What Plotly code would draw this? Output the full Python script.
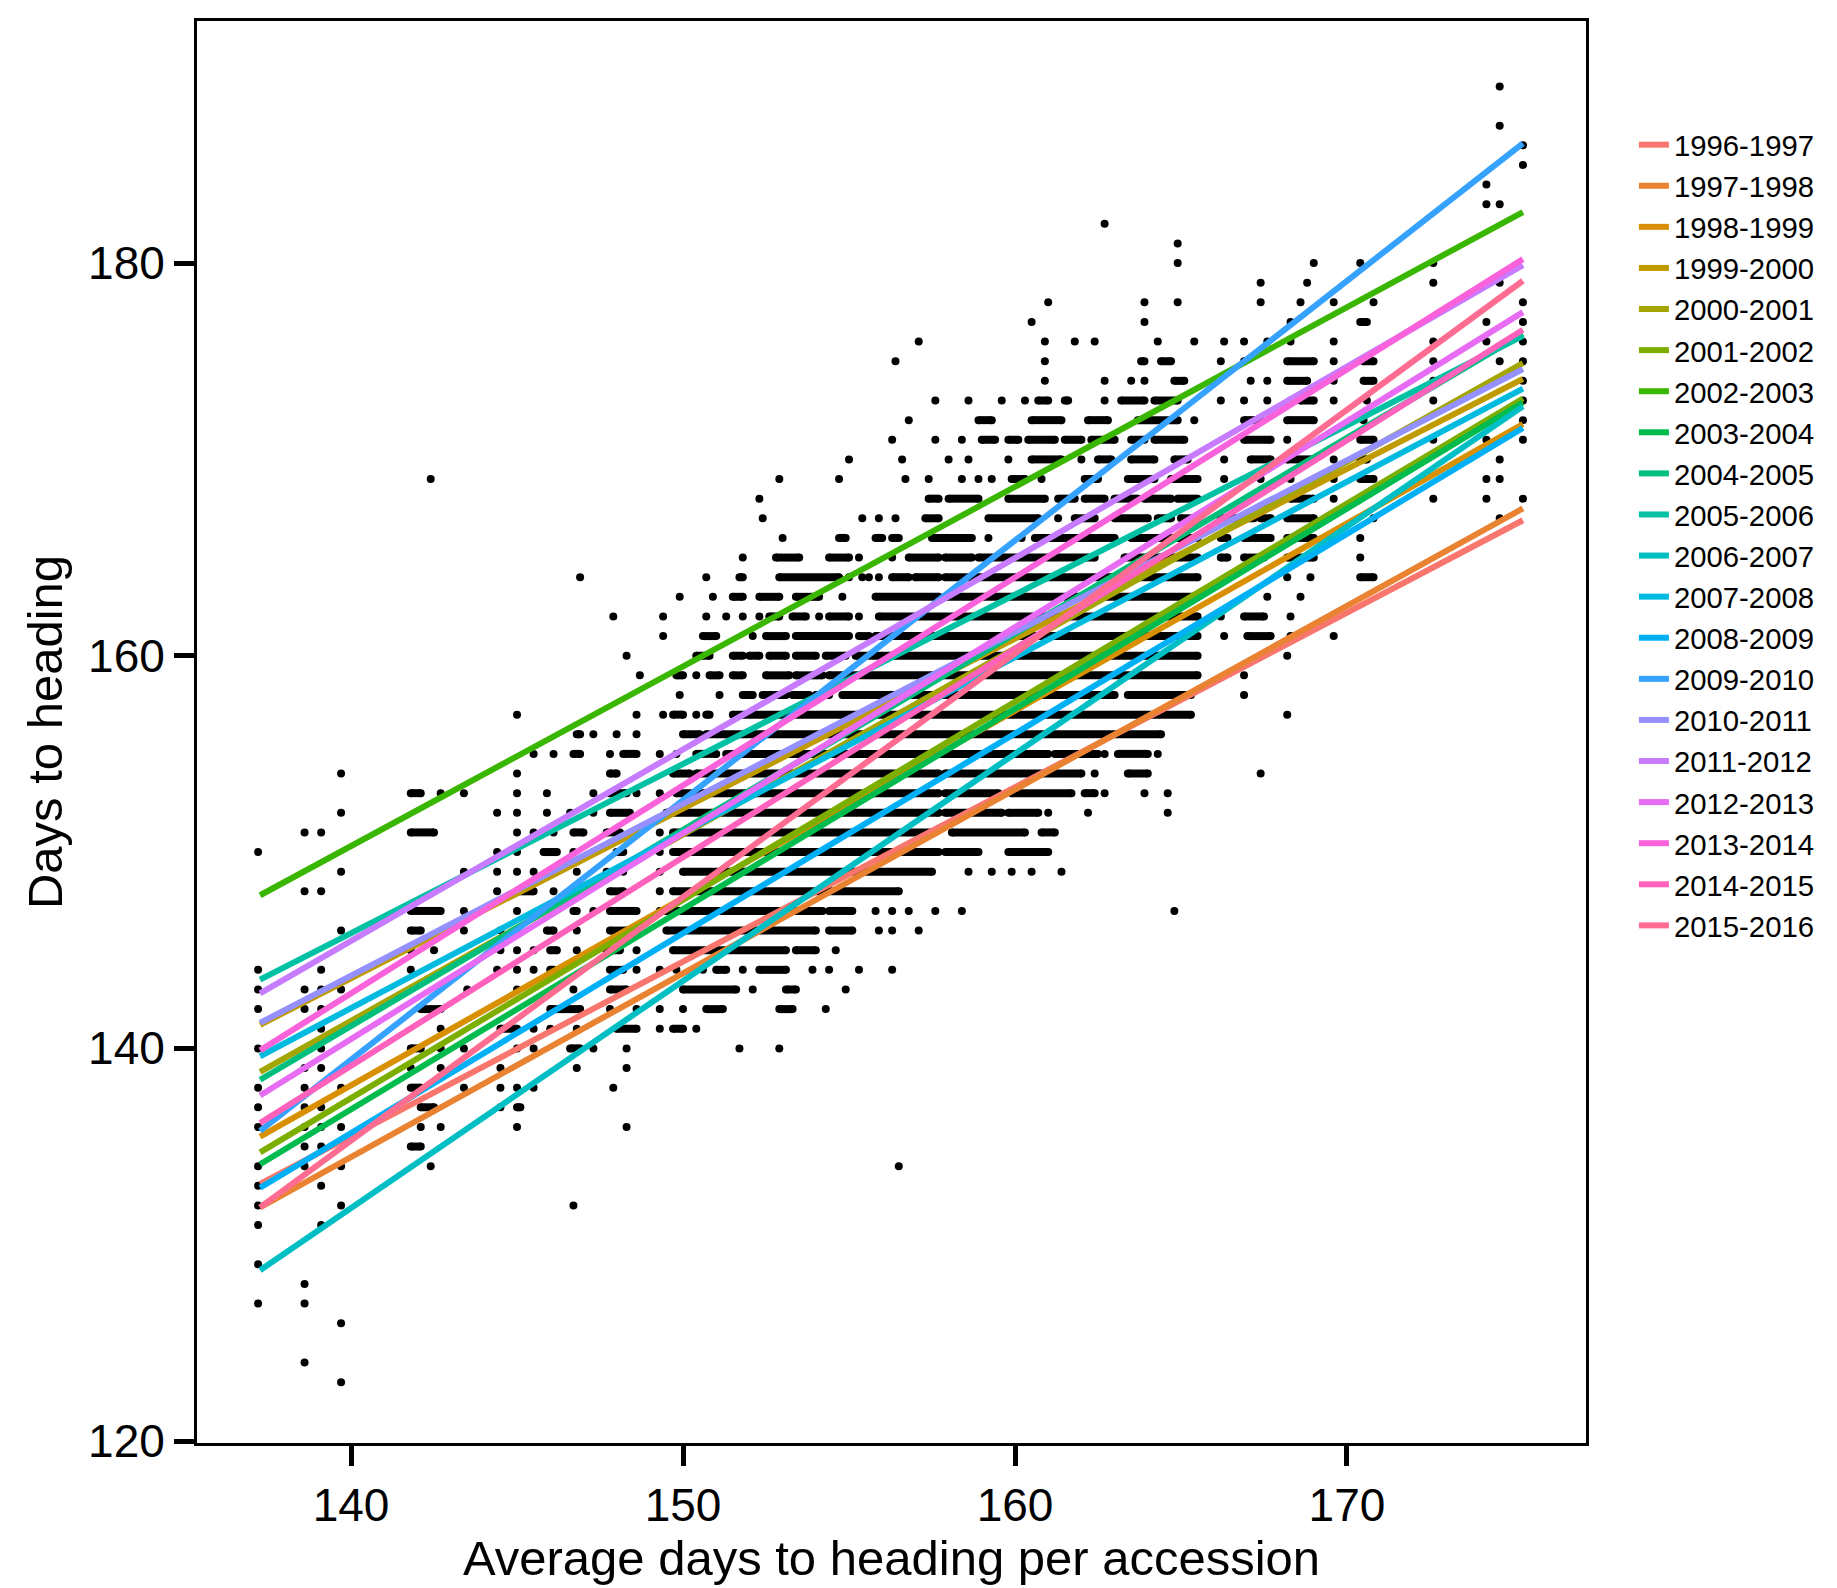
import plotly.graph_objects as go

FONT = "Liberation Sans, Arial, sans-serif"

# Growing seasons and their ggplot-style hue colours
seasons = [
    "1996-1997", "1997-1998", "1998-1999", "1999-2000", "2000-2001",
    "2001-2002", "2002-2003", "2003-2004", "2004-2005", "2005-2006",
    "2006-2007", "2007-2008", "2008-2009", "2009-2010", "2010-2011",
    "2011-2012", "2012-2013", "2013-2014", "2014-2015", "2015-2016",
]
line_colors = [
    "#F8766D", "#EA8331", "#D89000", "#C09B00", "#A3A500",
    "#7CAE00", "#39B600", "#00BB4E", "#00BF7D", "#00C1A3",
    "#00BFC4", "#00BAE0", "#00B0F6", "#35A2FF", "#9590FF",
    "#C77CFF", "#E76BF3", "#FA62DB", "#FF62BC", "#FF6C91",
]

# Fitted days to heading at the two ends of the accession range
fit_x = [137.26, 175.3]
fit_start = [133.1, 131.9, 135.5, 141.2, 138.8, 134.7, 147.8, 134.1, 138.4, 143.5,
             128.7, 139.6, 132.9, 135.8, 141.3, 142.8, 137.6, 139.9, 136.2, 131.9]
fit_end = [166.9, 167.5, 171.8, 174.1, 174.9, 173.1, 182.6, 172.9, 176.4, 176.3,
           172.7, 173.6, 171.6, 186.1, 174.6, 179.9, 177.5, 180.2, 176.6, 179.1]

# Observations by days to heading: single accessions (x) or runs of
# overlapping accessions (x_from, x_to)
dot_rows = {
    189: [174.6],
    187: [174.6],
    186: [175.3],
    185: [175.3],
    184: [174.2],
    183: [174.2, 174.6],
    182: [162.7],
    181: [164.9],
    180: [164.9, 169.0, 170.4, 172.6],
    179: [167.4, 168.8, 172.6, 174.6],
    178: [161.0, 163.9, 164.9, 167.4, 168.6, 169.6, 170.8, 175.3],
    177: [160.5, 163.9, 168.3, (170.4, 170.6), 174.2, 175.3],
    176: [157.1, 160.9, 161.8, 162.4, 164.3, 165.4, 166.3, 166.9, 167.6, 168.3,
          169.6, 172.6, 174.2, 175.3],
    175: [156.4, 160.9, (163.8, 163.9), (164.4, 164.7), 166.2, 166.9, (168.2, 169.0),
          169.6, (170.5, 170.8), 172.6, 174.6, 175.3],
    174: [160.9, 162.7, 163.5, 163.9, (164.8, 165.1), 167.1, 167.6, (168.2, 168.8),
          169.6, (170.5, 170.8), 172.6, 175.3],
    173: [157.6, 158.6, 159.6, 160.3, (160.7, 161.0), (161.5, 161.6), 162.7,
          (163.2, 163.9), (164.2, 164.9), 166.2, 166.9, 167.6, 168.3, (168.6, 169.0),
          169.6, 170.6, 172.6, 175.3],
    172: [156.8, (158.9, 159.3), (160.5, 161.4), (162.2, 162.8), (163.7, 164.9), 165.4,
          (166.9, 167.4), (168.2, 169.0), 170.5, 175.3],
    171: [156.3, 157.6, 158.4, (159.0, 159.4), (159.8, 160.1), (160.4, 161.2),
          (161.5, 162.0), (162.3, 163.0), (163.5, 163.9), (164.2, 165.1), (166.9, 167.7),
          168.2, (170.4, 170.8), 172.6, 174.2, 175.3],
    170: [155.0, 156.6, 158.0, 158.6, 159.8, (160.5, 161.4), 162.0, (162.5, 162.9),
          (163.5, 164.2), (164.8, 165.2), 166.3, (167.1, 167.7), (168.2, 169.0), 169.6,
          (170.4, 170.6), 174.6],
    169: [142.4, 152.9, 154.7, 156.7, 157.4, 158.4, 158.9, 159.3, (159.9, 160.3), 160.8,
          (162.1, 162.5), (163.4, 164.2), (164.7, 165.5), 166.3, 167.4, 168.3, 169.6,
          (170.4, 170.8), 174.2, 174.6],
    168: [152.3, (157.4, 157.7), (158.0, 158.9), (159.8, 160.9), (161.3, 161.8),
          (162.1, 162.7), (163.0, 163.7), (163.9, 164.7), (164.9, 165.5), (168.3, 169.0),
          169.6, 172.6, 174.2, 175.3],
    167: [152.4, 155.4, 155.9, 156.4, (157.3, 157.7), (159.2, 160.7), 161.3,
          (161.8, 162.4), (163.0, 164.0), (164.3, 164.7), (165.0, 165.5), (166.2, 167.2),
          (167.4, 167.7), (168.2, 169.0), 170.8, 174.6],
    166: [153.0, (154.7, 154.9), (155.8, 156.0), (156.3, 156.5), (157.5, 158.7), 159.2,
          160.2, (160.6, 162.4), (162.5, 163.0), (163.5, 165.5), (166.2, 166.4),
          (166.9, 167.7), (168.2, 169.0), 170.4],
    165: [151.8, (152.8, 153.5), (154.4, 155.0), 155.3, 156.3, (156.8, 157.7),
          (157.9, 158.7), (158.9, 162.4), (163.3, 165.5), (166.2, 166.4), (166.9, 167.5),
          (168.2, 169.0), 170.4],
    164: [146.9, 150.7, (151.7, 151.8), (152.9, 154.7), 155.0, 155.4, 155.6, 155.9,
          (156.3, 156.8), (157.0, 157.7), (157.9, 165.5), 168.2, 168.9, (170.4, 170.8)],
    163: [149.9, 150.9, (151.5, 151.8), (152.3, 152.9), (153.4, 154.1), 154.8,
          (155.8, 157.7), (157.9, 165.5), 167.6, 168.6],
    162: [147.9, 149.4, 150.7, 151.3, 151.8, 152.3, (152.6, 152.9), (153.3, 153.7), 154.1,
          (154.4, 155.0), 155.3, (155.9, 165.5), 166.2, (166.9, 167.5), 168.3],
    161: [149.4, (150.6, 151.0), 152.1, (152.5, 153.1), (153.4, 155.0), (155.3, 155.6),
          (155.8, 165.5), 166.3, (167.0, 167.7), 168.3, 169.6],
    160: [148.3, (150.4, 150.8), (151.5, 151.8), (152.0, 152.3), (152.6, 153.1),
          (153.4, 154.0), (154.3, 154.9), (155.2, 165.5), 168.2],
    159: [148.7, (149.8, 150.0), 150.4, (150.8, 151.1), (151.5, 151.8), (152.5, 153.2),
          (153.4, 154.2), (154.4, 165.5), 166.9],
    158: [149.9, 151.1, (151.8, 152.1), (152.4, 153.1), (153.3, 153.8), (154.0, 154.4),
          (154.8, 163.0), (163.4, 165.3), 166.9],
    157: [145.0, 148.6, 149.4, (149.7, 150.0), 150.4, (150.7, 150.8), (151.5, 165.3), 168.2],
    156: [(146.8, 146.9), 147.3, 148.0, 148.6, (150.0, 150.5), (150.7, 164.4)],
    155: [145.5, 146.1, (146.7, 146.9), 147.8, (148.2, 148.6), 149.3, 149.8,
          (150.4, 151.0), (151.3, 161.0), (161.2, 162.5), 162.7, (163.1, 164.0), 164.3],
    154: [139.7, 145.0, (147.8, 148.0), (149.7, 150.2), (150.4, 157.7), (157.9, 162.0),
          162.4, (163.4, 164.0), 167.4],
    153: [(141.8, 142.1), 142.7, 143.4, 145.0, 145.9, 147.3, (147.8, 148.3), 148.6, 149.3,
          (149.8, 157.7), (157.9, 159.5), (159.9, 161.7), (162.1, 162.4), 162.7, 163.9,
          164.6],
    152: [139.7, 144.4, 145.0, 145.9, 146.6, 147.3, (147.8, 148.4), (149.5, 157.7),
          (157.9, 159.6), (159.8, 160.7), 161.0, 162.2, 164.6],
    151: [138.6, 139.1, (141.8, 142.5), 145.0, 145.5, 146.1, (146.7, 147.0), (147.7, 148.1),
          149.3, (149.7, 157.5), (158.1, 160.3), (160.8, 161.2)],
    150: [137.2, 144.4, 145.0, (145.8, 146.2), 146.7, 147.3, (148.0, 148.2), 149.3,
          (149.7, 157.7), (157.9, 158.9), (159.8, 161.0)],
    149: [139.7, 143.4, 144.4, 145.0, 145.5, 146.8, 147.7, 148.2, 149.3, (150.0, 157.5),
          158.6, 159.3, 159.9, 160.5, 161.4],
    148: [138.6, 139.1, 144.4, (145.0, 145.5), 146.1, 146.7, (147.8, 148.2), 149.3,
          (149.7, 156.5)],
    147: [(141.8, 142.7), 143.4, 145.0, (146.7, 146.8), 147.3, (147.8, 148.6),
          (149.3, 154.2), (154.4, 155.1), 155.8, 156.3, 156.8, 157.6, 158.4, 164.8],
    146: [139.7, (141.8, 142.1), 143.4, 144.5, 145.0, (145.9, 146.1), 146.8, (147.8, 148.3),
          (149.5, 154.0), (154.4, 155.1), 155.9, 156.3, 157.1],
    145: [141.8, 142.5, 144.5, 145.0, 145.5, (146.0, 146.2), 146.8, (147.7, 148.1), 148.6,
          (149.7, 153.1), (153.4, 154.0), 154.6],
    144: [137.2, 139.1, 141.8, 144.4, 145.0, 145.5, (146.0, 146.1), (147.8, 148.2), 148.6,
          149.3, 149.8, 150.6, (151.0, 151.3), 151.8, (152.3, 153.1), 153.9, 154.4, 155.3,
          156.3],
    143: [137.2, 138.6, 139.1, 139.7, 143.5, 145.0, 146.7, (147.8, 148.3), (150.0, 151.6),
          152.1, (153.1, 153.4), 154.9],
    142: [137.2, 138.6, 139.1, (142.1, 142.7), (146.0, 146.9), 147.8, 148.6, 149.3, 150.0,
          (150.7, 151.2), (152.9, 153.3), 154.3],
    141: [139.1, 142.7, (144.5, 145.0), 145.5, 146.0, 146.8, (148.0, 148.6), 149.3,
          (149.7, 150.0), 150.4],
    140: [137.2, 139.1, (141.8, 142.1), 142.7, 143.4, 145.0, 145.5, (146.6, 146.9), 147.3,
          148.3, 151.7, 152.9],
    139: [138.6, 139.1, 141.8, 142.7, 144.5, 146.8, 148.3],
    138: [137.2, 138.6, 139.7, (141.8, 142.1), 143.4, 144.5, 145.0, 145.5, 147.9],
    137: [137.2, 138.6, 139.1, (142.1, 142.5), 144.5, (145.0, 145.1)],
    136: [137.2, 138.6, 139.1, 139.7, 142.1, 142.7, 145.0, 148.3],
    135: [138.6, 139.1, (141.8, 142.1)],
    134: [137.2, 138.6, 139.7, 142.4, 156.5],
    133: [137.2, 139.1],
    132: [137.2, 139.7, 146.7],
    131: [137.2, 139.1],
    129: [137.2],
    128: [138.6],
    127: [137.2, 138.6],
    126: [139.7],
    124: [138.6],
    123: [139.7],
}

fig = go.Figure()

# Points: lone accessions as dots, overlapping runs as capped bars
dot_x, dot_y, run_x, run_y = [], [], [], []
for y_val, items in dot_rows.items():
    for item in items:
        if isinstance(item, tuple):
            x0, x1 = item
            dot_x += [x0, x1]
            dot_y += [y_val, y_val]
            run_x += [x0, x1, None]
            run_y += [y_val, y_val, None]
        else:
            dot_x.append(item)
            dot_y.append(y_val)

DOT = 8
fig.add_trace(go.Scatter(x=run_x, y=run_y, mode="lines",
                         line=dict(color="black", width=DOT),
                         showlegend=False, hoverinfo="skip"))
fig.add_trace(go.Scatter(x=dot_x, y=dot_y, mode="markers",
                         marker=dict(color="black", size=DOT, line=dict(width=0)),
                         showlegend=False))

# One fitted line per season
for name, col, y0, y1 in zip(seasons, line_colors, fit_start, fit_end):
    fig.add_trace(go.Scatter(x=fit_x, y=[y0, y1], mode="lines", name=name,
                             line=dict(color=col, width=6)))

axis_common = dict(
    showgrid=False, zeroline=False,
    showline=True, linewidth=3, linecolor="black", mirror=True,
    ticks="outside", ticklen=20, tickwidth=5, tickcolor="black",
    tickfont=dict(family=FONT, size=46, color="black"),
)

fig.update_layout(
    width=1837, height=1588,
    margin=dict(l=197, r=251, t=21, b=139, pad=0),
    paper_bgcolor="white", plot_bgcolor="white",
    font=dict(family=FONT, color="black"),
    xaxis=dict(range=[135.36, 177.2], tickvals=[140, 150, 160, 170],
               title=dict(text="Average days to heading per accession",
                          font=dict(family=FONT, size=49), standoff=10),
               **axis_common),
    yaxis=dict(range=[119.9, 192.33], tickvals=[120, 140, 160, 180],
               title=dict(text="Days to heading",
                          font=dict(family=FONT, size=49), standoff=10),
               **axis_common),
    legend=dict(x=1.0345, xanchor="left", y=0.931, yanchor="top",
                font=dict(family=FONT, size=29.3, color="black"),
                bgcolor="rgba(0,0,0,0)", borderwidth=0, tracegroupgap=0,
                itemwidth=30),
    showlegend=True,
)

fig.write_html("out.html")
